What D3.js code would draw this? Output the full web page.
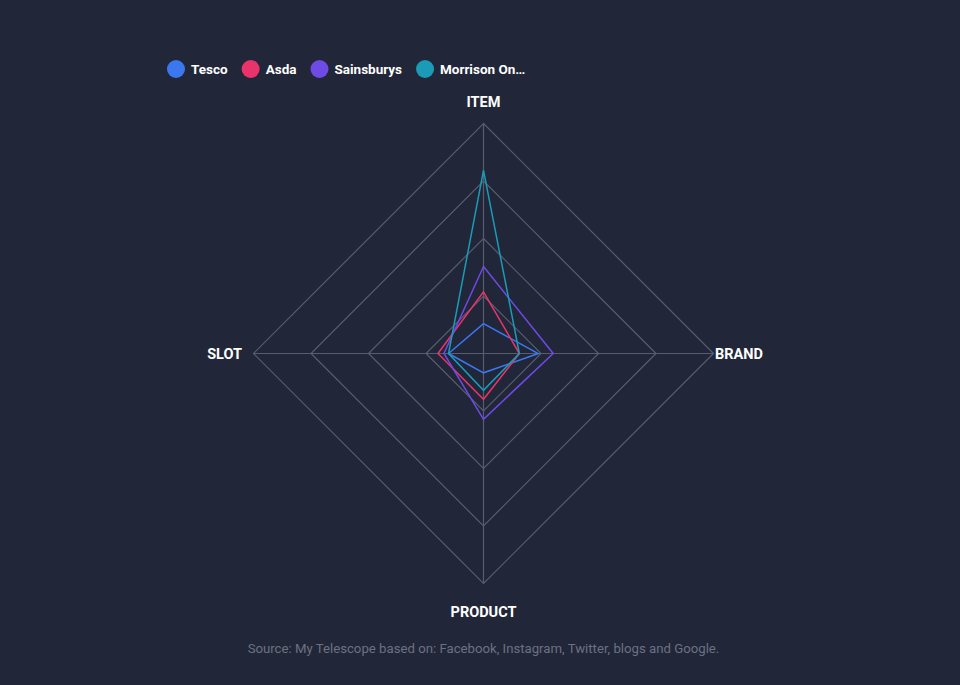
<!DOCTYPE html>
<html>
<head>
<meta charset="utf-8">
<script src="https://cdn.jsdelivr.net/npm/d3@7"></script>
<style>
  html, body { margin: 0; padding: 0; background: #212739; }
  svg { display: block; }
  text { font-family: Roboto, "Noto Sans", sans-serif; }
</style>
</head>
<body>
<svg id="chart" width="960" height="685"></svg>
<script>
// ---- data ----
const axes = ["ITEM", "BRAND", "PRODUCT", "SLOT"];
const seriesNames = ["Tesco", "Asda", "Sainsburys", "Morrison On…"];
const seriesColors = ["#3b78f0", "#e8346a", "#6f4be6", "#1b9bb8"];
const tescoValues      = [13.0, 23.8, 8.4, 15.2];
const asdaValues       = [26.8, 15.6, 19.9, 19.8];
const sainsburysValues = [37.8, 30.3, 28.6, 17.2];
const morrisonValues   = [79.6, 15.6, 16.0, 15.2];
const gridLevels = [25, 50, 75, 100];
const sourceText = "Source: My Telescope based on: Facebook, Instagram, Twitter, blogs and Google.";

const allValues = [tescoValues, asdaValues, sainsburysValues, morrisonValues];

const svg = d3.select("#chart");
const cx = 483.5, cy = 353.5, R = 230;

svg.append("rect").attr("width", 960).attr("height", 685).attr("fill", "#212739");

const r = d3.scaleLinear().domain([0, 100]).range([0, R]);
const angle = d3.scaleBand().domain(axes).range([0, 2 * Math.PI]).align(0).paddingInner(0).paddingOuter(0);

const g = svg.append("g").attr("transform", `translate(${cx},${cy})`);

const radialLine = d3.lineRadial()
  .angle((d, i) => angle(axes[i]))
  .radius(d => r(d))
  .curve(d3.curveLinearClosed);

// grid
const gridColor = "#585d6d";
gridLevels.forEach(lv => {
  g.append("path")
    .attr("d", radialLine(axes.map(() => lv)))
    .attr("fill", "none")
    .attr("stroke", gridColor)
    .attr("stroke-width", 1.2);
});
axes.forEach(a => {
  const t = angle(a);
  g.append("line")
    .attr("x1", 0).attr("y1", 0)
    .attr("x2", r(100) * Math.sin(t)).attr("y2", -r(100) * Math.cos(t))
    .attr("stroke", gridColor)
    .attr("stroke-width", 1.2);
});

// series
allValues.forEach((vals, i) => {
  g.append("path")
    .attr("d", radialLine(vals))
    .attr("fill", "none")
    .attr("stroke", seriesColors[i])
    .attr("stroke-width", 1.5)
    .attr("stroke-linejoin", "miter");
});

// axis labels
axes.forEach(a => {
  const t = angle(a);
  const sx = Math.sin(t), sy = -Math.cos(t);
  let x = (r(100)) * sx, y = (r(100)) * sy;
  let anchor = "middle", dy = "0.35em";
  if (Math.abs(sx) < 0.01) {
    if (sy < 0) { y -= 22; } else { y += 28; }
  } else if (sx > 0) { x += 1.5; anchor = "start"; }
  else { x -= 11.5; anchor = "end"; }
  g.append("text")
    .attr("x", x).attr("y", y).attr("dy", dy)
    .attr("text-anchor", anchor)
    .attr("fill", "#ffffff")
    .attr("font-size", 14.5)
    .attr("font-weight", "bold")
    .text(a);
});

// legend
const legend = svg.append("g").attr("transform", "translate(167,69)");
let lx = 0;
seriesNames.forEach((name, i) => {
  const item = legend.append("g").attr("transform", `translate(${lx},0)`);
  item.append("circle").attr("cx", 9).attr("cy", 0).attr("r", 9).attr("fill", seriesColors[i]);
  const txt = item.append("text")
    .attr("x", 24).attr("y", 0).attr("dy", "0.35em")
    .attr("fill", "#ffffff")
    .attr("font-size", 13.5)
    .attr("font-weight", "bold")
    .text(name);
  const w = txt.node().getComputedTextLength();
  lx += 24 + w + 14;
});

// source
svg.append("text")
  .attr("x", cx).attr("y", 648).attr("dy", "0.35em")
  .attr("text-anchor", "middle")
  .attr("fill", "#6c7182")
  .attr("font-size", 13.2)
  .text(sourceText);
</script>
</body>
</html>
